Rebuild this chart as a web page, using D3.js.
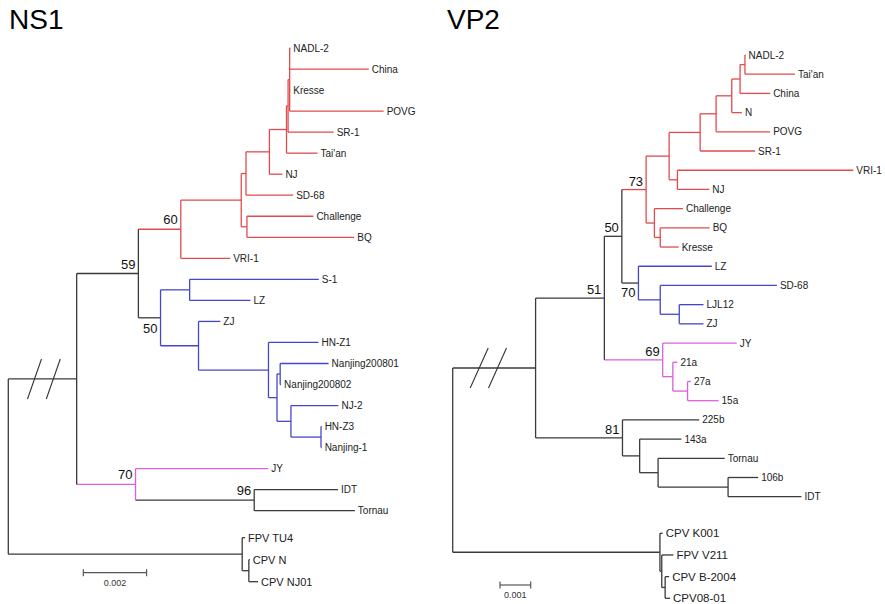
<!DOCTYPE html>
<html><head><meta charset="utf-8">
<script src="https://cdn.jsdelivr.net/npm/d3@7"></script>
<style>body{margin:0;background:#fff} svg{display:block}</style>
</head><body>
<svg id="chart" width="885" height="604"></svg>
<script>
// ---- NS1 tree: [node id, parent id, branch length (subst./site), clade group, stem group]
// internal nodes start with "_", leaves are named by their strain
const ns1Rows = [
  ["_root", null, 0, "k"],
  ["_R", "_root", 0.00216, "k"],
  ["_59", "_R", 0.00195, "k"],
  ["_60", "_59", 0.00134, "r"],
  ["_A", "_60", 0.00191, "r"],
  ["_B", "_A", 0.00015, "r"],
  ["_D", "_B", 0.00074, "r"],
  ["_E", "_D", 0.00054, "r"],
  ["_F", "_E", 0.00005, "r"],
  ["_G", "_F", 0.00005, "r"],
  ["NADL-2", "_G", 0.00002, "r"],
  ["China", "_G", 0.00250, "r"],
  ["Kresse", "_G", 0.00002, "r"],
  ["POVG", "_G", 0.00297, "r"],
  ["SR-1", "_F", 0.00144, "r"],
  ["Tai'an", "_E", 0.00098, "r"],
  ["NJ", "_D", 0.00041, "r"],
  ["SD-68", "_B", 0.00149, "r"],
  ["_C", "_A", 0.00018, "r"],
  ["Challenge", "_C", 0.00210, "r"],
  ["BQ", "_C", 0.00339, "r"],
  ["VRI-1", "_60", 0.00156, "r"],
  ["_50", "_59", 0.00070, "b", "k"],
  ["_S", "_50", 0.00092, "b"],
  ["S-1", "_S", 0.00408, "b"],
  ["LZ", "_S", 0.00192, "b"],
  ["_Z", "_50", 0.00120, "b"],
  ["ZJ", "_Z", 0.00069, "b"],
  ["_HN", "_Z", 0.00221, "b"],
  ["HN-Z1", "_HN", 0.00158, "b"],
  ["_P", "_HN", 0.00027, "b"],
  ["_N8", "_P", 0.00010, "b"],
  ["Nanjing200801", "_N8", 0.00153, "b"],
  ["Nanjing200802", "_N8", 0.00003, "b"],
  ["_NZ", "_P", 0.00044, "b"],
  ["NJ-2", "_NZ", 0.00150, "b"],
  ["_HZ", "_NZ", 0.00095, "b"],
  ["HN-Z3", "_HZ", 0.00002, "b"],
  ["Nanjing-1", "_HZ", 0.00002, "b"],
  ["_70", "_R", 0.00186, "m"],
  ["JY", "_70", 0.00419, "m"],
  ["_96", "_70", 0.00375, "k"],
  ["IDT", "_96", 0.00265, "k"],
  ["Tornau", "_96", 0.00318, "k"],
  ["_O", "_root", 0.00739, "k"],
  ["FPV TU4", "_O", 0.00009, "k"],
  ["_CPV", "_O", 0.00021, "k"],
  ["CPV N", "_CPV", 0.00003, "k"],
  ["CPV NJ01", "_CPV", 0.00029, "k"]
];
const ns1Boot = [["_60", 60], ["_59", 59], ["_50", 50], ["_70", 70], ["_96", 96]];
const ns1BootBelow = ["_50"];

// ---- VP2 tree
const vp2Rows = [
  ["_root", null, 0, "k"],
  ["_A", "_root", 0.00270, "k"],
  ["_51", "_A", 0.00224, "k"],
  ["_50", "_51", 0.00057, "k"],
  ["_73", "_50", 0.00079, "r"],
  ["_K1", "_73", 0.00075, "r"],
  ["_K2", "_K1", 0.00101, "r"],
  ["_K3", "_K2", 0.00052, "r"],
  ["_K4", "_K3", 0.00051, "r"],
  ["_K5", "_K4", 0.00027, "r"],
  ["_K6", "_K5", 0.00016, "r"],
  ["NADL-2", "_K6", 0.00002, "r"],
  ["Tai'an", "_K6", 0.00163, "r"],
  ["China", "_K5", 0.00098, "r"],
  ["N", "_K4", 0.00033, "r"],
  ["POVG", "_K3", 0.00176, "r"],
  ["SR-1", "_K2", 0.00179, "r"],
  ["_VN", "_K1", 0.00027, "r"],
  ["VRI-1", "_VN", 0.00573, "r"],
  ["NJ", "_VN", 0.00104, "r"],
  ["_CBK", "_73", 0.00027, "r"],
  ["Challenge", "_CBK", 0.00093, "r"],
  ["_BK", "_CBK", 0.00019, "r"],
  ["BQ", "_BK", 0.00161, "r"],
  ["Kresse", "_BK", 0.00060, "r"],
  ["_70", "_50", 0.00054, "b", "k"],
  ["LZ", "_70", 0.00239, "b"],
  ["_SL", "_70", 0.00071, "b"],
  ["SD-68", "_SL", 0.00380, "b"],
  ["_LJ", "_SL", 0.00062, "b"],
  ["LJL12", "_LJ", 0.00079, "b"],
  ["ZJ", "_LJ", 0.00079, "b"],
  ["_69", "_51", 0.00190, "m"],
  ["JY", "_69", 0.00241, "m"],
  ["_21", "_69", 0.00033, "m"],
  ["21a", "_21", 0.00015, "m"],
  ["_27", "_21", 0.00048, "m"],
  ["27a", "_27", 0.00011, "m"],
  ["15a", "_27", 0.00101, "m"],
  ["_81", "_A", 0.00283, "k"],
  ["225b", "_81", 0.00250, "k"],
  ["_143", "_81", 0.00056, "k"],
  ["143a", "_143", 0.00136, "k"],
  ["_T", "_143", 0.00060, "k"],
  ["Tornau", "_T", 0.00217, "k"],
  ["_106", "_T", 0.00228, "k"],
  ["106b", "_106", 0.00098, "k"],
  ["IDT", "_106", 0.00239, "k"],
  ["_O", "_root", 0.00675, "k"],
  ["CPV K001", "_O", 0.00009, "k"],
  ["_FB", "_O", 0.00006, "k"],
  ["FPV V211", "_FB", 0.00038, "k"],
  ["_NB", "_FB", 0.00011, "k"],
  ["CPV B-2004", "_NB", 0.00013, "k"],
  ["CPV08-01", "_NB", 0.00016, "k"]
];
const vp2Boot = [["_73", 73], ["_50", 50], ["_51", 51], ["_70", 70], ["_69", 69], ["_81", 81]];
const vp2BootBelow = ["_70"];

const titles = ["NS1", "VP2"];
const scaleBarValues = [0.002, 0.001];
const scaleBarLabels = ["0.002", "0.001"];

// ---- styles
const COLORS = {r: "#e24a4e", b: "#4646cc", m: "#dc60dc", k: "#3a3a3a"};
const FONT = "'Liberation Sans', Arial, sans-serif";

const svg = d3.select("#chart");

function drawTree(rows, boots, below, cfg) {
  const g = svg.append("g");
  const root = d3.stratify().id(d => d[0]).parentId(d => d[1])(rows);
  root.eachBefore(n => { n.dist = (n.parent ? n.parent.dist : 0) + n.data[2]; });
  const x = d3.scaleLinear().domain([0, cfg.unit]).range([cfg.x0, cfg.x0 + cfg.unitPx]);
  const og = root.children.find(c => c.id === "_O");
  const ogSet = new Set(og.leaves());
  const leaves = root.leaves();
  const inL = leaves.filter(l => !ogSet.has(l));
  const outL = leaves.filter(l => ogSet.has(l));
  const yIn = d3.scaleLinear().domain([0, inL.length - 1]).range(cfg.yIn);
  const yOut = d3.scaleLinear().domain([0, outL.length - 1]).range(cfg.yOut);
  inL.forEach((l, i) => l.y = yIn(i));
  outL.forEach((l, i) => l.y = yOut(i));
  root.eachAfter(n => { if (n.children) n.y = (n.children[0].y + n.children[n.children.length - 1].y) / 2; });
  root.each(n => n.x = x(n.dist));

  const nodes = root.descendants();
  // horizontal branches
  g.selectAll("line.h").data(nodes.filter(n => n.parent)).join("line")
    .attr("x1", n => n.parent.x).attr("x2", n => n.x)
    .attr("y1", n => n.y).attr("y2", n => n.y)
    .attr("stroke", n => COLORS[n.data[4] || n.data[3]]).attr("stroke-width", 1.3);
  // vertical connectors
  g.selectAll("line.v").data(nodes.filter(n => n.children)).join("line")
    .attr("x1", n => n.x).attr("x2", n => n.x)
    .attr("y1", n => n.children[0].y).attr("y2", n => n.children[n.children.length - 1].y)
    .attr("stroke", n => COLORS[n.data[3]]).attr("stroke-width", 1.3);
  // leaf labels
  g.selectAll("text.leaf").data(leaves).join("text")
    .attr("x", n => n.x + 3).attr("y", n => n.y).attr("dy", "0.36em")
    .attr("font-family", FONT)
    .attr("font-size", n => ogSet.has(n) ? cfg.outFont : cfg.leafFont)
    .attr("fill", "#222").text(n => n.id);
  // bootstrap values
  const byId = new Map(nodes.map(n => [n.id, n]));
  g.selectAll("text.boot").data(boots).join("text")
    .attr("x", d => byId.get(d[0]).x - 3)
    .attr("y", d => byId.get(d[0]).y + (below.includes(d[0]) ? cfg.belowDy : cfg.aboveDy))
    .attr("text-anchor", "end").attr("font-family", FONT).attr("font-size", 13)
    .attr("fill", "#111").text(d => d[1]);
  // break marks on the root branch
  const rb = root.children[0];
  cfg.breaks.forEach(bx => {
    g.append("line").attr("x1", bx - cfg.brkDx).attr("x2", bx + cfg.brkDx)
      .attr("y1", rb.y + 20).attr("y2", rb.y - 20)
      .attr("stroke", "#333").attr("stroke-width", 1.1);
  });
  // scale bar
  const bw = x(cfg.barValue) - x(0);
  const sb = g.append("g").attr("stroke", "#555").attr("stroke-width", 1.2);
  sb.append("line").attr("x1", cfg.barX).attr("x2", cfg.barX + bw).attr("y1", cfg.barY).attr("y2", cfg.barY);
  sb.append("line").attr("x1", cfg.barX).attr("x2", cfg.barX).attr("y1", cfg.barY - 3.5).attr("y2", cfg.barY + 3.5);
  sb.append("line").attr("x1", cfg.barX + bw).attr("x2", cfg.barX + bw).attr("y1", cfg.barY - 3.5).attr("y2", cfg.barY + 3.5);
  g.append("text").attr("x", cfg.barX + bw / 2).attr("y", cfg.barY + 13)
    .attr("text-anchor", "middle").attr("font-family", FONT).attr("font-size", 9)
    .attr("fill", "#333").text(cfg.barLabel);
  // title
  g.append("text").attr("x", cfg.titleX).attr("y", 29).attr("font-family", FONT)
    .attr("font-size", 28).attr("fill", "#000").text(cfg.title);
}

drawTree(ns1Rows, ns1Boot, ns1BootBelow, {
  unit: 0.001, x0: 8.3, unitPx: 31.65, yIn: [48, 510.7], yOut: [537.7, 581.7],
  leafFont: 10, outFont: 11, aboveDy: -5, belowDy: 15,
  breaks: [34.5, 53.3], brkDx: 7, barX: 83.3, barY: 572.7,
  barValue: scaleBarValues[0], barLabel: scaleBarLabels[0], titleX: 9, title: titles[0]
});
drawTree(vp2Rows, vp2Boot, vp2BootBelow, {
  unit: 0.001, x0: 452.7, unitPx: 30.7, yIn: [55, 496.7], yOut: [533.3, 598.3],
  leafFont: 10, outFont: 11.5, aboveDy: -4, belowDy: 14,
  breaks: [479.2, 497.5], brkDx: 9, barX: 500, barY: 585,
  barValue: scaleBarValues[1], barLabel: scaleBarLabels[1], titleX: 447, title: titles[1]
});
</script>
</body></html>
